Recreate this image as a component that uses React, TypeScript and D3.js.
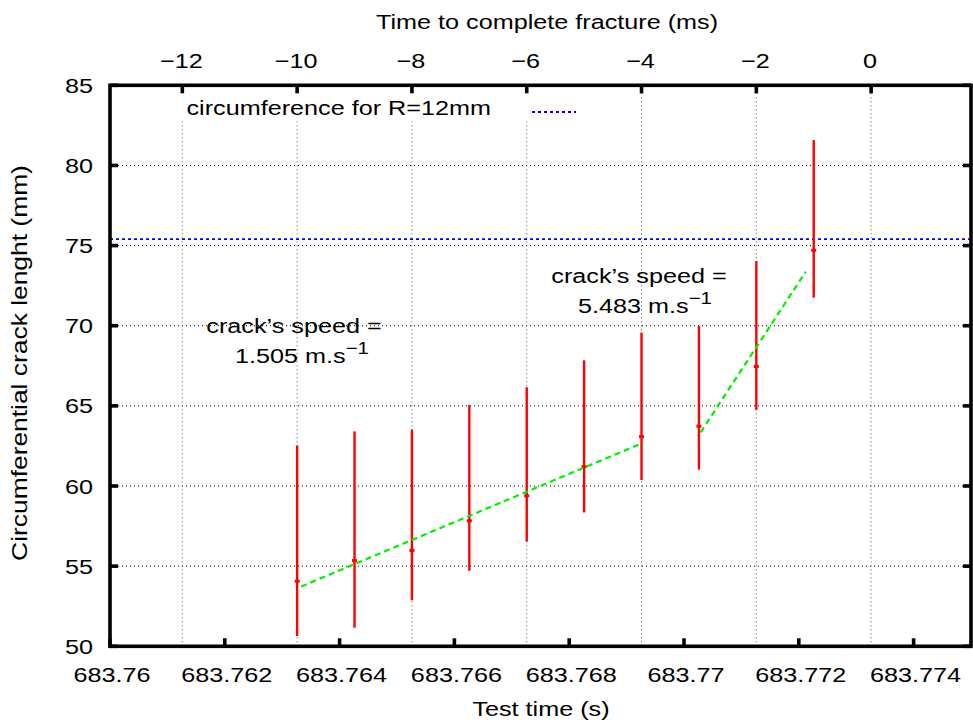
import React from "react";
import * as d3 from "d3";

// ---- data ----
const testTime = [683.76326, 683.76426, 683.76526, 683.76626, 683.76726, 683.76826, 683.76926, 683.77026, 683.77126, 683.77226];
const crackLength = [54.06, 55.35, 55.98, 57.83, 59.39, 61.21, 63.08, 63.73, 67.46, 74.71];
const crackLow = [50.64, 51.16, 52.87, 54.71, 56.54, 58.35, 60.37, 61.02, 64.75, 71.75];
const crackHigh = [62.52, 63.41, 63.52, 65.05, 66.16, 67.84, 69.57, 69.98, 74.04, 81.58];
const fractureTime = 683.77326;
const fit1Time = [683.76333, 683.76923];
const fit1Len = [53.73, 62.61];
const fit2Time = [683.77029, 683.77212];
const fit2Len = [63.35, 73.37];
const circumference = 75.4;
const xTicks = [683.76, 683.762, 683.764, 683.766, 683.768, 683.77, 683.772, 683.774];
const xTickLabels = ["683.76", "683.762", "683.764", "683.766", "683.768", "683.77", "683.772", "683.774"];
const x2Ticks = [-12, -10, -8, -6, -4, -2, 0];
const yTicks = [50, 55, 60, 65, 70, 75, 80, 85];
const xDomain = [683.76, 683.775];
const yDomain = [50, 85];

const FONT = "'Liberation Sans', Arial, Helvetica, sans-serif";
const SX = 1.2;

function T({ x, y, anchor = "middle", size = 21, rotate = 0, children }: any) {
  return (
    <text
      transform={`translate(${x},${y})${rotate ? ` rotate(${rotate})` : ""} scale(${SX},1)`}
      textAnchor={anchor}
      fontSize={size}
      fontFamily={FONT}
      fill="#000"
    >
      {children}
    </text>
  );
}

export default function App() {
  const L = 110, R = 971, TOP = 85.3, B = 646.3;
  const x = d3.scaleLinear().domain(xDomain).range([L, R]);
  const x2 = d3.scaleLinear().domain(xDomain.map((t) => (t - fractureTime) * 1000)).range([L, R]);
  const y = d3.scaleLinear().domain(yDomain).range([B, TOP]);
  const line = d3.line<[number, number]>().x((d) => x(d[0])).y((d) => y(d[1]));
  const fit1 = fit1Time.map((t, i) => [t, fit1Len[i]] as [number, number]);
  const fit2 = fit2Time.map((t, i) => [t, fit2Len[i]] as [number, number]);
  const tick = 8;
  const sw = 3.6;
  const minus = (v: number) => (v < 0 ? "\u2212" + Math.abs(v) : String(v));

  return (
    <svg width={973} height={725} style={{ position: "absolute", left: 0, top: 0, background: "#fff" }}>
      <rect x={0} y={0} width={973} height={725} fill="#fff" />
      {/* grid */}
      <g stroke="#000" strokeWidth={1} strokeDasharray="1,3">
        {yTicks.filter((v) => v > 50 && v < 85).map((v) => (
          <line key={"gy" + v} x1={L} x2={R} y1={y(v)} y2={y(v)} />
        ))}
      </g>
      <g stroke="#555" strokeWidth={1} strokeDasharray="1,3">
        {x2Ticks.map((v) => (
          <line key={"gx" + v} x1={x2(v)} x2={x2(v)} y1={TOP} y2={B} />
        ))}
      </g>
      {/* key area blank */}
      <rect x={176} y={TOP} width={412} height={36} fill="#fff" />
      {/* circumference line */}
      <line x1={L} x2={R} y1={y(circumference)} y2={y(circumference)} stroke="#0000ff" strokeWidth={1.8} strokeDasharray="3,3" />
      <line x1={532} x2={576} y1={112} y2={112} stroke="#0000ff" strokeWidth={1.8} strokeDasharray="3,3" />
      <T x={491} y={115} anchor="end">circumference for R=12mm</T>
      {/* error bars */}
      <g>
        {testTime.map((t, i) => (
          <g key={"eb" + i}>
            <line x1={x(t)} x2={x(t)} y1={y(crackLow[i])} y2={y(crackHigh[i])} stroke="#ff0000" strokeWidth={2.4} />
            <rect x={x(t) - 2.5} y={y(crackLength[i]) - 1.5} width={5} height={3} fill="#ff0000" />
          </g>
        ))}
      </g>
      {/* fits */}
      <path d={line(fit1) || ""} fill="none" stroke="#00ee00" strokeWidth={2.2} strokeDasharray="6,4" />
      <path d={line(fit2) || ""} fill="none" stroke="#00ee00" strokeWidth={2.2} strokeDasharray="6,4" />
      {/* border */}
      <rect x={L} y={TOP} width={R - L} height={B - TOP} fill="none" stroke="#000" strokeWidth={sw} />
      {/* ticks */}
      <g stroke="#000" strokeWidth={sw}>
        {xTicks.map((v) => (
          <line key={"xt" + v} x1={x(v)} x2={x(v)} y1={B} y2={B - tick} />
        ))}
        {x2Ticks.map((v) => (
          <line key={"x2t" + v} x1={x2(v)} x2={x2(v)} y1={TOP} y2={TOP + tick} />
        ))}
        {yTicks.map((v) => (
          <g key={"yt" + v}>
            <line x1={L} x2={L + tick} y1={y(v)} y2={y(v)} />
            <line x1={R} x2={R - tick} y1={y(v)} y2={y(v)} />
          </g>
        ))}
      </g>
      {/* tick labels */}
      {xTicks.map((v, i) => (
        <T key={"xl" + v} x={x(v) + 2} y={681.5}>{xTickLabels[i]}</T>
      ))}
      {x2Ticks.map((v) => (
        <T key={"x2l" + v} x={x2(v) - 1} y={68}>{minus(v)}</T>
      ))}
      {yTicks.map((v) => (
        <T key={"yl" + v} x={93} y={y(v) + 7.5} anchor="end">{String(v)}</T>
      ))}
      {/* axis titles */}
      <T x={541} y={716}>Test time (s)</T>
      <T x={547} y={28.5}>Time to complete fracture (ms)</T>
      <T x={27} y={363} rotate={-90} size={22}>Circumferential crack lenght (mm)</T>
      {/* annotations */}
      <T x={294} y={333}>crack’s speed =</T>
      <text transform={`translate(235,363) scale(${SX},1)`} textAnchor="start" fontSize={21} fontFamily={FONT}>
        <tspan>1.505 m.s</tspan>
        <tspan dy={-9} fontSize={17}>−1</tspan>
      </text>
      <T x={639} y={283}>crack’s speed =</T>
      <text transform={`translate(578,313) scale(${SX},1)`} textAnchor="start" fontSize={21} fontFamily={FONT}>
        <tspan>5.483 m.s</tspan>
        <tspan dy={-9} fontSize={17}>−1</tspan>
      </text>
    </svg>
  );
}
